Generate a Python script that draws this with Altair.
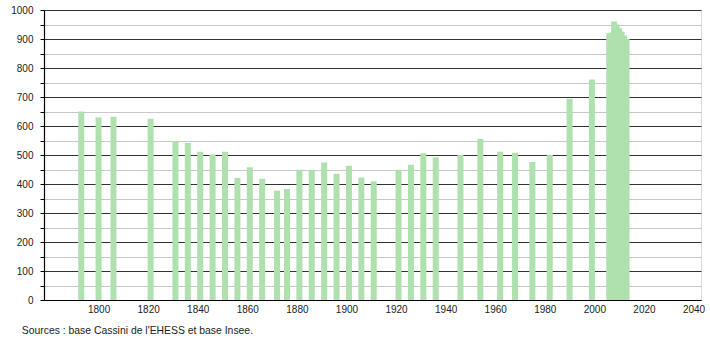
import altair as alt
import pandas as pd

years = [1793, 1800, 1806, 1821, 1831, 1836, 1841, 1846, 1851, 1856, 1861, 1866,
         1872, 1876, 1881, 1886, 1891, 1896, 1901, 1906, 1911, 1921, 1926, 1931,
         1936, 1946, 1954, 1962, 1968, 1975, 1982, 1990, 1999, 2006, 2007, 2008,
         2009, 2010, 2011, 2012, 2013]
population = [650, 629, 632, 625, 548, 541, 511, 502, 511, 421, 458, 418,
              377, 383, 449, 448, 474, 435, 463, 422, 409, 449, 466, 506,
              492, 500, 556, 511, 508, 476, 500, 694, 760, 920, 922, 960,
              950, 937, 925, 912, 900]
x_ticks = [1800, 1820, 1840, 1860, 1880, 1900, 1920, 1940, 1960, 1980, 2000, 2020, 2040]
y_ticks = list(range(0, 1001, 50))
source_text = "Sources : base Cassini de l'EHESS et base Insee."

df = pd.DataFrame({"year": years, "pop": population})

FONT = "Liberation Sans"

chart = alt.Chart(df).mark_bar(size=6, color="#afe1af").encode(
    x=alt.X("year:Q",
            scale=alt.Scale(domain=[1780, 2041], nice=False, zero=False),
            axis=alt.Axis(values=x_ticks, title=None, grid=False, ticks=False,
                          format="d", labelFont=FONT, labelFontSize=10,
                          labelColor="#222222", labelPadding=4,
                          domainColor="#000000", domainWidth=1.2)),
    y=alt.Y("pop:Q",
            scale=alt.Scale(domain=[0, 1000], nice=False),
            axis=alt.Axis(values=y_ticks, title=None, grid=True, format="d",
                          gridColor={"condition": {"test": "datum.value % 100 == 0", "value": "#333333"}, "value": "#c8c8c8"},
                          gridWidth=1,
                          tickColor="#000000", tickSize=4,
                          labelExpr="datum.value % 100 == 0 ? datum.label : ''",
                          labelFont=FONT, labelFontSize=10, labelColor="#222222",
                          labelPadding=7, domainColor="#000000", domainWidth=1.2)),
).properties(
    width=657,
    height=290,
    autosize=alt.AutoSizeParams(type="none"),
    padding={"left": 44, "top": 10, "right": 9, "bottom": 40},
    title=alt.TitleParams(source_text, orient="bottom", anchor="start", dx=11,
                          offset=12, font=FONT, fontSize=10.4, fontWeight="normal",
                          color="#222222"),
).configure_view(stroke=None).configure(background="white")

chart.save("out.html", embed_options={"renderer": "svg", "actions": False})
